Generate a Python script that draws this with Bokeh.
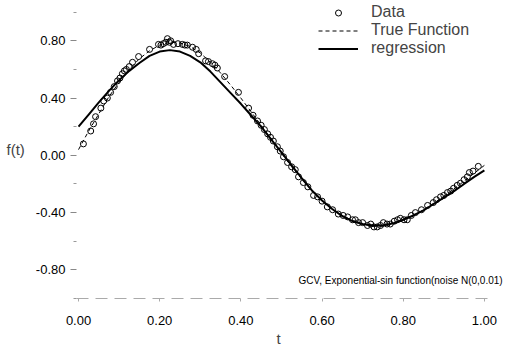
from bokeh.plotting import figure
from bokeh.models import Range1d, FixedTicker, Label, Legend, LegendItem, Title
from bokeh.embed import file_html
from bokeh.resources import INLINE

# ---- data ----
data_t = [0.012, 0.030, 0.037, 0.042, 0.055, 0.062, 0.071, 0.079, 0.088, 0.096,
          0.102, 0.108, 0.113, 0.118, 0.125, 0.133, 0.148, 0.175, 0.197, 0.203,
          0.209, 0.215, 0.219, 0.224, 0.227, 0.234, 0.245, 0.256, 0.262, 0.268,
          0.281, 0.290, 0.296, 0.313, 0.320, 0.330, 0.336, 0.342, 0.360, 0.394,
          0.419, 0.430, 0.441, 0.450, 0.458, 0.466, 0.473, 0.480, 0.490, 0.497,
          0.505, 0.515, 0.525, 0.534, 0.542, 0.554, 0.565, 0.579, 0.589, 0.600,
          0.613, 0.626, 0.640, 0.652, 0.663, 0.675, 0.682, 0.690, 0.700, 0.712,
          0.720, 0.728, 0.736, 0.744, 0.751, 0.760, 0.768, 0.778, 0.786, 0.793,
          0.802, 0.810, 0.820, 0.830, 0.845, 0.860, 0.874, 0.882, 0.892, 0.900,
          0.909, 0.917, 0.924, 0.933, 0.941, 0.950, 0.958, 0.963, 0.972, 0.985]
data_y = [0.08, 0.17, 0.22, 0.27, 0.33, 0.38, 0.40, 0.44, 0.48, 0.52,
          0.54, 0.57, 0.59, 0.60, 0.62, 0.65, 0.69, 0.74, 0.775, 0.77,
          0.78, 0.79, 0.815, 0.79, 0.80, 0.775, 0.78, 0.775, 0.77, 0.77,
          0.755, 0.74, 0.71, 0.66, 0.655, 0.64, 0.63, 0.61, 0.55, 0.44,
          0.33, 0.28, 0.24, 0.21, 0.18, 0.15, 0.126, 0.10, 0.06, 0.03,
          -0.01, -0.05, -0.08, -0.10, -0.15, -0.19, -0.22, -0.28, -0.29, -0.32,
          -0.36, -0.38, -0.41, -0.42, -0.43, -0.45, -0.45, -0.47, -0.47, -0.49,
          -0.48, -0.50, -0.50, -0.49, -0.47, -0.48, -0.48, -0.46, -0.45, -0.44,
          -0.45, -0.45, -0.42, -0.40, -0.38, -0.35, -0.33, -0.31, -0.29, -0.28,
          -0.26, -0.25, -0.23, -0.21, -0.195, -0.17, -0.15, -0.12, -0.11, -0.077]

curve_t = [0.0, 0.025, 0.05, 0.075, 0.1, 0.125, 0.15, 0.175, 0.2, 0.225,
           0.25, 0.275, 0.3, 0.325, 0.35, 0.375, 0.4, 0.425, 0.45, 0.475,
           0.5, 0.525, 0.55, 0.575, 0.6, 0.625, 0.65, 0.675, 0.7, 0.725,
           0.75, 0.775, 0.8, 0.825, 0.85, 0.875, 0.9, 0.925, 0.95, 0.975, 1.0]
true_y = [0.04, 0.17, 0.29, 0.41, 0.51, 0.60, 0.675, 0.73, 0.77, 0.79,
          0.785, 0.76, 0.715, 0.65, 0.575, 0.49, 0.40, 0.305, 0.21, 0.11,
          0.015, -0.08, -0.165, -0.245, -0.315, -0.375, -0.42, -0.455, -0.48, -0.495,
          -0.495, -0.48, -0.455, -0.42, -0.38, -0.335, -0.285, -0.235, -0.18, -0.125, -0.07]
reg_y = [0.20, 0.285, 0.37, 0.45, 0.525, 0.59, 0.645, 0.695, 0.725, 0.735,
         0.725, 0.695, 0.65, 0.585, 0.51, 0.435, 0.36, 0.28, 0.20, 0.11,
         0.02, -0.07, -0.16, -0.245, -0.315, -0.375, -0.425, -0.46, -0.48, -0.49,
         -0.49, -0.475, -0.45, -0.42, -0.385, -0.34, -0.295, -0.25, -0.20, -0.15, -0.105]

x_ticks = [0.0, 0.2, 0.4, 0.6, 0.8, 1.0]
x_tick_labels = ["0.00", "0.20", "0.40", "0.60", "0.80", "1.00"]
y_ticks = [-0.8, -0.4, 0.0, 0.4, 0.8]
y_tick_labels = ["-0.80", "-0.40", "0.00", "0.40", "0.80"]
y_minor = [-1.0, -0.6, -0.2, 0.2, 0.6, 1.0]

FONT = "Liberation Sans"

p = figure(width=505, height=351, output_backend="svg", toolbar_location=None,
           x_range=Range1d(-0.005, 1.052), y_range=Range1d(-1.0, 1.0816),
           min_border_left=76, min_border_right=0, min_border_top=0,
           min_border_bottom=53)
p.outline_line_color = None
p.xgrid.visible = False
p.ygrid.visible = False
p.background_fill_color = "white"

r_true = p.line(curve_t, true_y, line_color="black", line_width=1, line_dash="4 3")
r_reg = p.line(curve_t, reg_y, line_color="black", line_width=2)
r_data = p.scatter(data_t, data_y, marker="circle", size=6, fill_color=None,
                   line_color="black", line_width=1)

legend = Legend(items=[LegendItem(label="Data", renderers=[r_data]),
                       LegendItem(label="True Function", renderers=[r_true]),
                       LegendItem(label="regression", renderers=[r_reg])],
                location=(242, 241))
legend.border_line_color = None
legend.background_fill_alpha = 0
legend.label_text_font = FONT
legend.label_text_font_size = "16px"
legend.glyph_width = 40
legend.glyph_height = 15
legend.label_height = 15
legend.label_standoff = 13
legend.spacing = -3
legend.padding = 0
legend.margin = 0
p.add_layout(legend)

# y axis
ya = p.yaxis[0]
ya.ticker = FixedTicker(ticks=y_ticks, minor_ticks=y_minor)
ya.major_label_overrides = {t: l for t, l in zip(y_ticks, y_tick_labels)}
ya.axis_line_color = None
ya.major_tick_out = 6
ya.major_tick_in = 0
ya.major_tick_line_color = "#888888"
ya.minor_tick_out = 3
ya.minor_tick_in = 0
ya.minor_tick_line_color = "#999999"
ya.major_label_text_font = FONT
ya.major_label_text_font_size = "13px"
ya.major_label_text_color = "black"
ya.major_label_standoff = 5
ya.axis_label = "f(t)"
ya.axis_label_orientation = "horizontal"
ya.axis_label_text_font = FONT
ya.axis_label_text_font_size = "15px"
ya.axis_label_text_font_style = "normal"
ya.axis_label_standoff = 8

# x axis
xa = p.xaxis[0]
xa.ticker = FixedTicker(ticks=x_ticks, minor_ticks=[])
xa.major_label_overrides = {t: l for t, l in zip(x_ticks, x_tick_labels)}
xa.bounds = (-0.005, 1.015)
xa.axis_line_color = "#aaaaaa"
xa.axis_line_dash = "12 7"
xa.major_tick_out = 3
xa.major_tick_in = 0
xa.major_tick_line_color = "#aaaaaa"
xa.major_label_text_font = FONT
xa.major_label_text_font_size = "13px"
xa.major_label_text_color = "black"
xa.major_label_standoff = 14

# x-axis title "t", centred under the axis line (not the wider frame)
xtitle = Title(text="t", align="left", offset=200, text_font=FONT,
               text_font_size="15px", text_font_style="normal", standoff=0)
p.add_layout(xtitle, "below")

note = Label(x=1.045, y=-0.872, text="GCV, Exponential-sin function(noise N(0,0.01)",
             text_align="right", text_baseline="middle", text_font=FONT,
             text_font_size="10px", text_color="black")
p.add_layout(note)

open("out.html", "w").write(file_html(p, INLINE))
